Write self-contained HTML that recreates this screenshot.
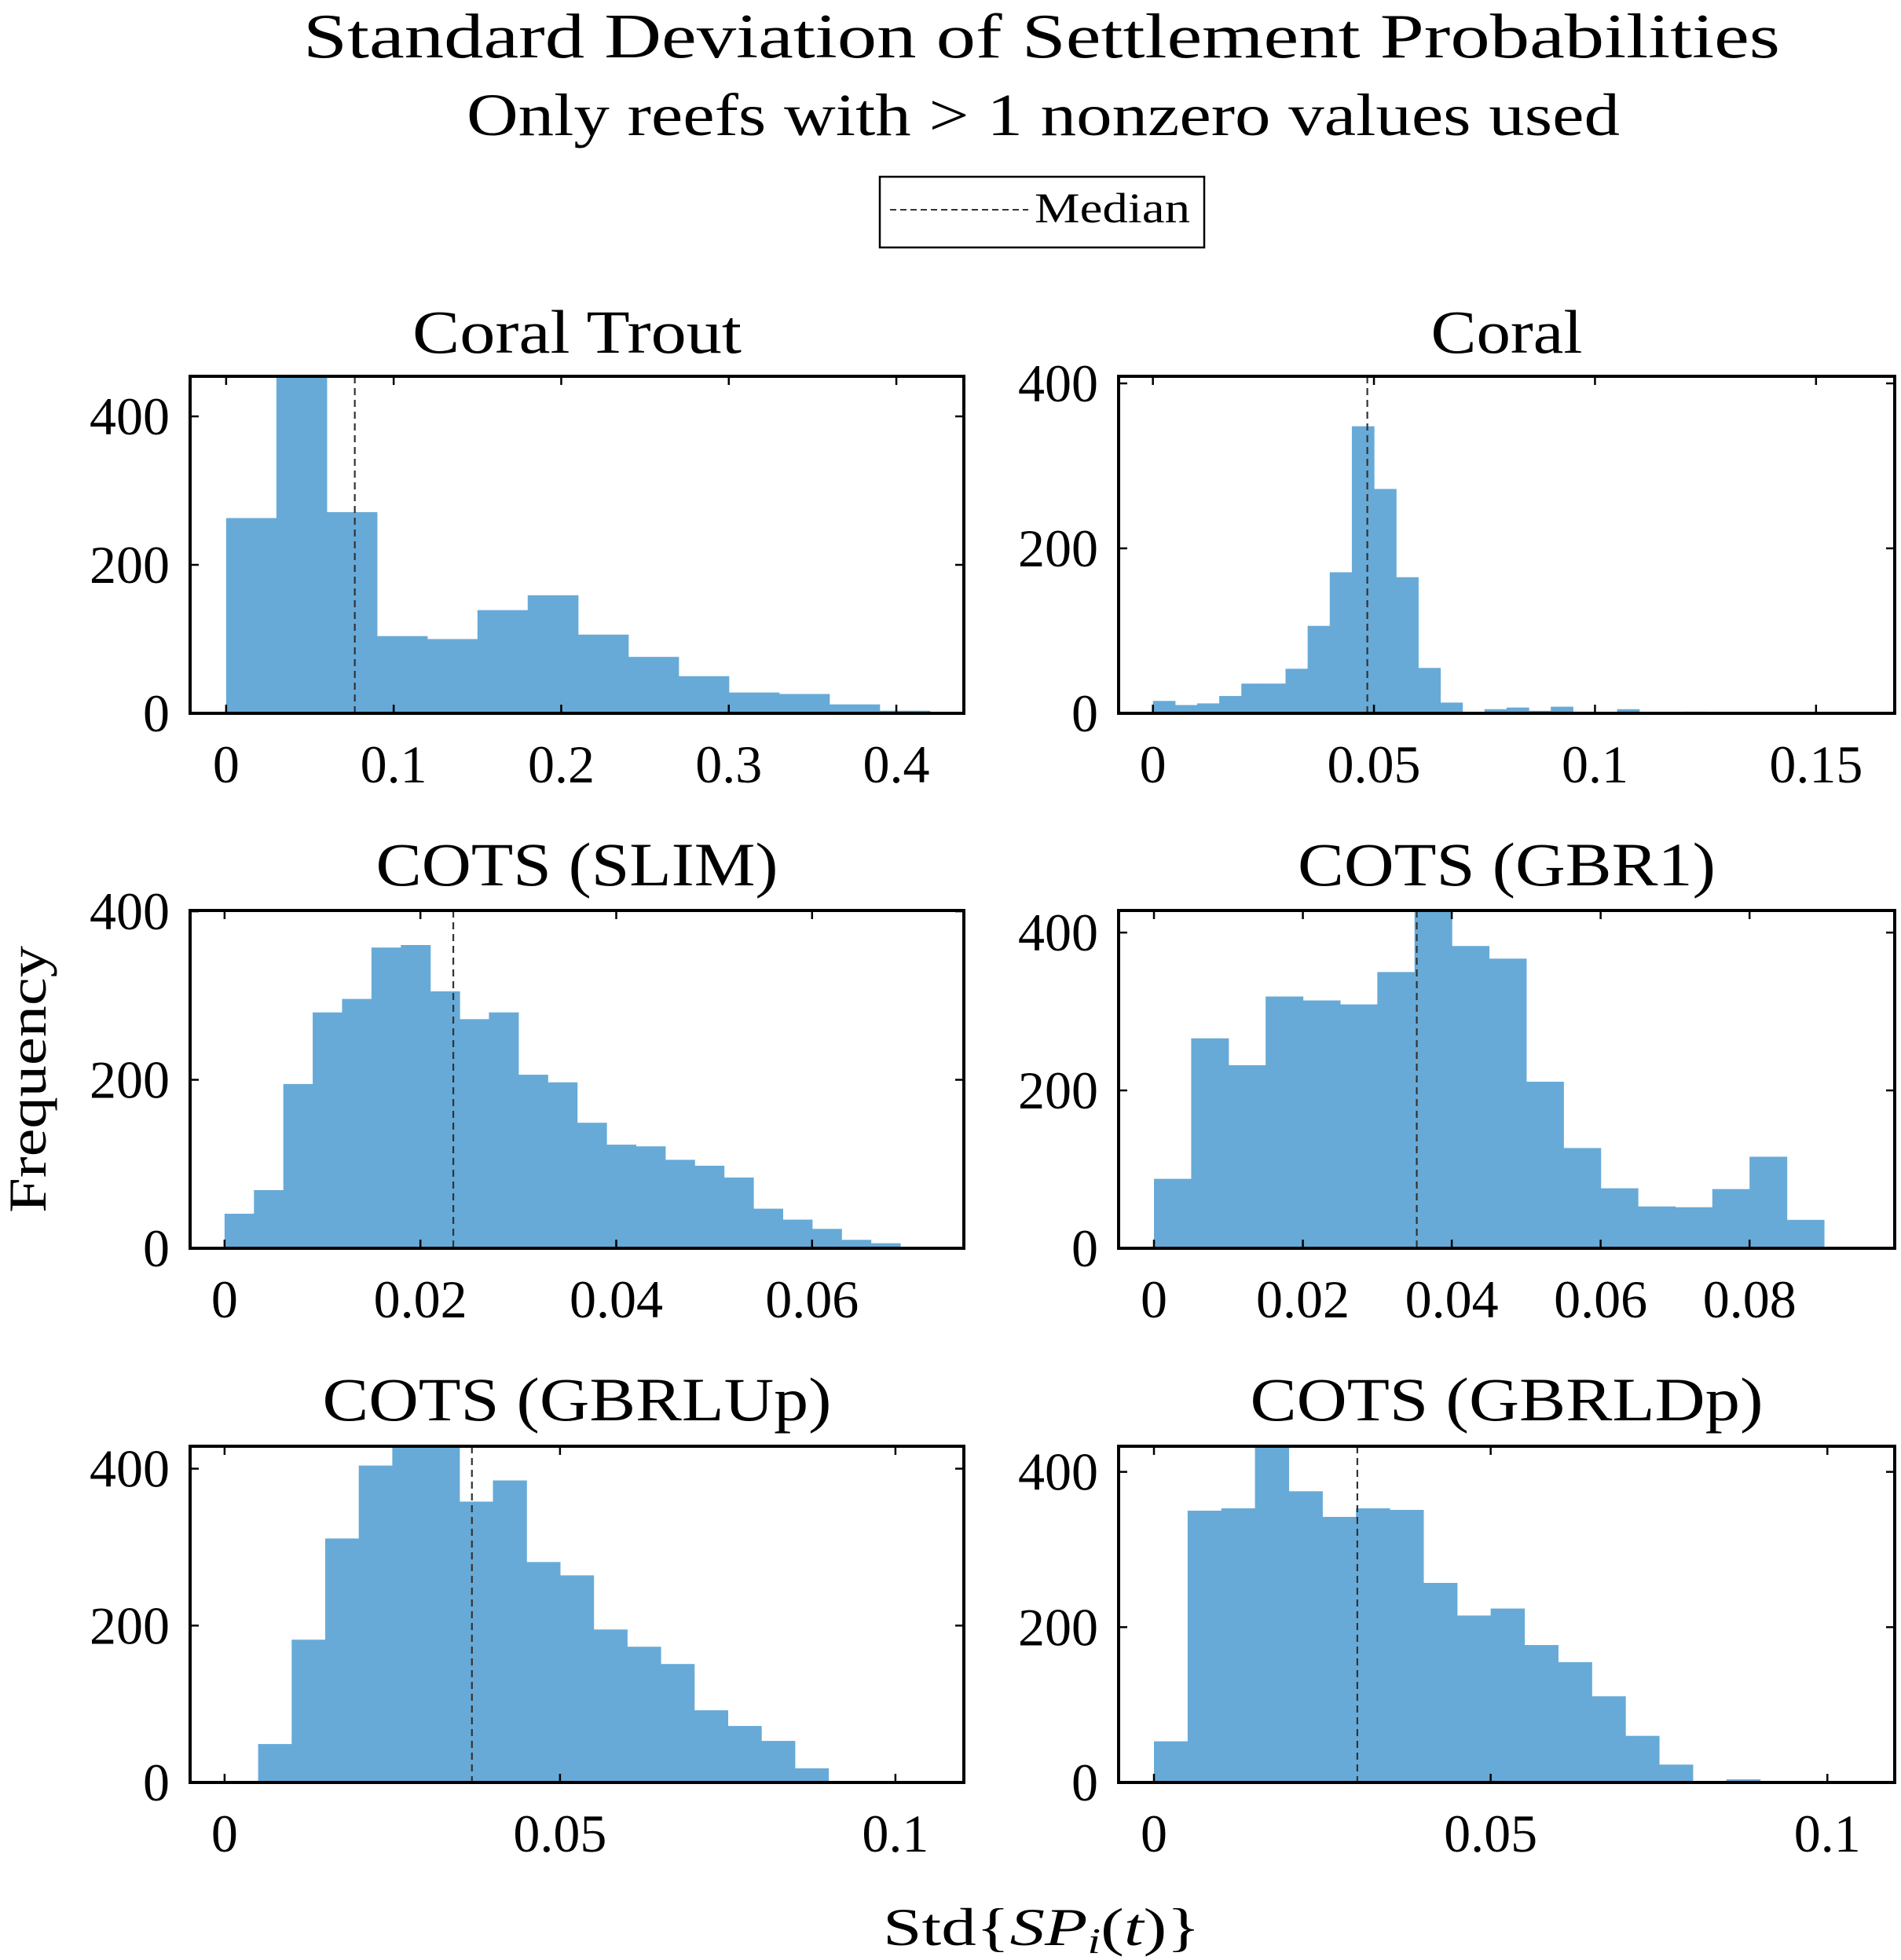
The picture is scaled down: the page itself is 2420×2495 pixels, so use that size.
<!DOCTYPE html>
<html><head><meta charset="utf-8"><style>
html,body{margin:0;padding:0;background:#fff;}
svg{display:block;font-family:"Liberation Serif","DejaVu Serif",serif;}
</style></head><body>
<svg id="fig" width="2420" height="2495" viewBox="0 0 2420 2495" xmlns="http://www.w3.org/2000/svg">
<rect width="2420" height="2495" fill="#fff"/>
<text x="1326" y="73" font-size="80" text-anchor="middle" textLength="1880" lengthAdjust="spacingAndGlyphs">Standard Deviation of Settlement Probabilities</text>
<text x="1328" y="172" font-size="76" text-anchor="middle" textLength="1468" lengthAdjust="spacingAndGlyphs">Only reefs with &gt; 1 nonzero values used</text>
<g>
<rect x="1120" y="225" width="413" height="90" fill="#fff" stroke="#000" stroke-width="2.5"/>
<line x1="1133" y1="267" x2="1309" y2="267" stroke="#333" stroke-width="2" stroke-dasharray="8,5"/>
<text x="1317" y="283" font-size="54" textLength="198" lengthAdjust="spacingAndGlyphs">Median</text>
</g>
<text transform="translate(58,1374) rotate(-90)" font-size="68" text-anchor="middle" textLength="340" lengthAdjust="spacingAndGlyphs">Frequency</text>
<text x="1326" y="2476" font-size="68" text-anchor="middle" textLength="404" lengthAdjust="spacingAndGlyphs">Std{<tspan font-style="italic">SP</tspan><tspan font-style="italic" font-size="46" dy="10">i</tspan><tspan dy="-10">(</tspan><tspan font-style="italic">t</tspan>)}</text>
<g id="panels"></g>
</svg>
<script>
// ---- data ----
const panelTitles = ["Coral Trout","Coral","COTS (SLIM)","COTS (GBR1)","COTS (GBRLUp)","COTS (GBRLDp)"];
const binWidths = [0.03, 0.005, 0.003, 0.005, 0.005, 0.005];
const coralTroutCounts = [263, 470, 271, 104, 100, 139, 159, 106, 76, 50, 28, 26, 12, 3.5];
const coralCounts = [15, 10, 12, 21, 36, 36, 54, 106, 171, 348, 272, 165, 55, 13, 0, 5, 7, 3, 8, 2, 0, 5, 0, 0, 2];
const slimCounts = [41, 69, 195, 280, 296, 357, 360, 305, 272, 280, 206, 197, 149, 123, 121, 105, 98, 84, 47, 34, 23, 10, 6];
const gbr1Counts = [88, 266, 232, 319, 314, 309, 350, 440, 383, 367, 211, 127, 76, 53, 52, 75, 116, 36];
const gbrlupCounts = [0, 49, 182, 311, 404, 445, 435, 358, 385, 281, 264, 195, 173, 151, 92, 72, 53, 18, 1.5, 0, 1.5];
const gbrldpCounts = [53, 350, 353, 440, 375, 342, 353, 351, 257, 215, 224, 177, 155, 111, 60, 23, 0, 4];
const medians = [0.0768, 0.0485, 0.02336, 0.0353, 0.03687, 0.0302];
const xTicks0 = [0, 0.1, 0.2, 0.3, 0.4];
const xTicks1 = [0, 0.05, 0.1, 0.15];
const xTicks2 = [0, 0.02, 0.04, 0.06];
const xTicks3 = [0, 0.02, 0.04, 0.06, 0.08];
const xTicks4 = [0, 0.05, 0.1];
const xTicks5 = [0, 0.05, 0.1];
const yTicks = [0, 200, 400];
const xLims = [[-0.0215, 0.4403], [-0.00776, 0.1678], [-0.00352, 0.0755], [-0.00475, 0.0995], [-0.00514, 0.1102], [-0.00525, 0.110]];
const yMaxes = [454, 408.6, 401, 428, 428.6, 433];
// ---- layout ----
const countsAll = [coralTroutCounts, coralCounts, slimCounts, gbr1Counts, gbrlupCounts, gbrldpCounts];
const ticksAll = [xTicks0, xTicks1, xTicks2, xTicks3, xTicks4, xTicks5];
const titleLens = [419, 193, 512, 532, 648, 653];
const colX = [[242, 1227], [1424, 2412]];
const rowY = [[479, 908], [1159, 1589], [1841, 2269]];
const NS = "http://www.w3.org/2000/svg";
const root = document.getElementById("panels");
function mk(tag, attrs, parent) {
  const e = document.createElementNS(NS, tag);
  for (const k in attrs) e.setAttribute(k, attrs[k]);
  parent.appendChild(e);
  return e;
}
const slugs = ["coral-trout","coral","cots-slim","cots-gbr1","cots-gbrlup","cots-gbrldp"];
for (let p = 0; p < 6; p++) {
  const [x0, x1] = colX[p % 2];
  const [y0, y1] = rowY[Math.floor(p / 2)];
  const [xmin, xmax] = xLims[p];
  const ymax = yMaxes[p];
  const sx = v => x0 + (v - xmin) / (xmax - xmin) * (x1 - x0);
  const sy = v => y1 - v / ymax * (y1 - y0);
  const g = mk("g", {}, root);
  
  
  const clipId = "clip" + p;
  const cp = mk("clipPath", {id: clipId}, g);
  mk("rect", {x: x0, y: y0, width: x1 - x0, height: y1 - y0}, cp);
  const bars = mk("g", {"clip-path": "url(#" + clipId + ")"}, g);
  const counts = countsAll[p];
  const bw = binWidths[p];
  counts.forEach((c, i) => {
    if (c <= 0) return;
    const xa = sx(i * bw), xb = sx((i + 1) * bw);
    const r = mk("rect", {x: xa, y: sy(c), width: xb - xa + 0.6, height: y1 - sy(c), fill: "#67aad7"}, bars);
    
    
  });
  const mx = sx(medians[p]);
  const ml = mk("line", {x1: mx, y1: y0, x2: mx, y2: y1, stroke: "#333", "stroke-width": 2.2, "stroke-dasharray": "9,6"}, g);
  
  
  ticksAll[p].forEach(t => {
    const x = sx(t);
    mk("line", {x1: x, y1: y1, x2: x, y2: y1 - 11, stroke: "#000", "stroke-width": 2.5}, g);
    mk("line", {x1: x, y1: y0, x2: x, y2: y0 + 11, stroke: "#000", "stroke-width": 2.5}, g);
    const tl = mk("text", {x: x, y: y1 + 88, "font-size": 68, "text-anchor": "middle"}, g);
    tl.textContent = String(t);
    
    
  });
  yTicks.forEach(t => {
    if (t > ymax + 2) return;
    const y = sy(t);
    mk("line", {x1: x0, y1: y, x2: x0 + 11, y2: y, stroke: "#000", "stroke-width": 2.5}, g);
    mk("line", {x1: x1, y1: y, x2: x1 - 11, y2: y, stroke: "#000", "stroke-width": 2.5}, g);
    const tl = mk("text", {x: x0 - 26, y: y + 23, "font-size": 68, "text-anchor": "end"}, g);
    tl.textContent = String(t);
    
    
  });
  const fr = mk("rect", {x: x0, y: y0, width: x1 - x0, height: y1 - y0, fill: "none", stroke: "#000", "stroke-width": 4}, g);
  
  
  const tt = mk("text", {x: (x0 + x1) / 2, y: [449, 1127, 1808][Math.floor(p / 2)], "font-size": 78, "text-anchor": "middle", textLength: titleLens[p], lengthAdjust: "spacingAndGlyphs"}, g);
  tt.textContent = panelTitles[p];
  
  
}
</script>
</body></html>
